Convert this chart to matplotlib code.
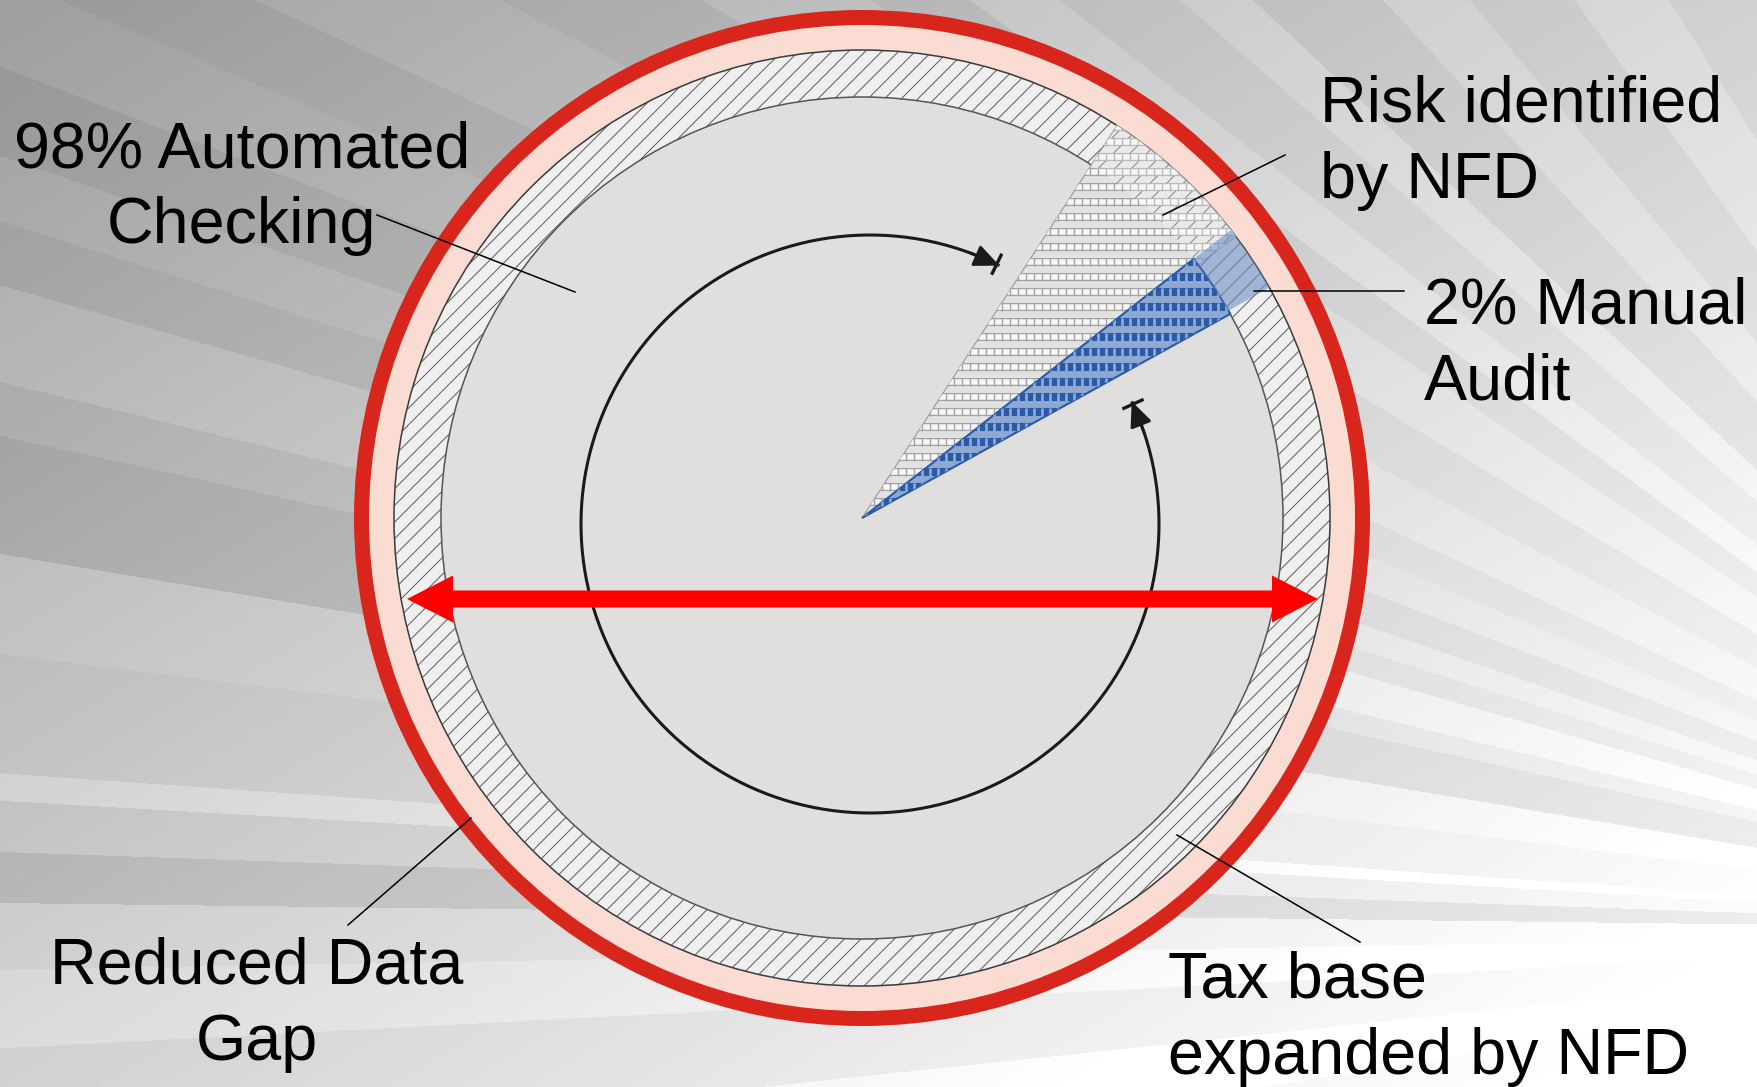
import numpy as np
import matplotlib
matplotlib.use('Agg')
import matplotlib.pyplot as plt
from matplotlib.patches import Circle, Wedge, FancyArrow
from matplotlib.collections import LineCollection

W, H = 1758, 1087
plt.rcParams['font.family'] = ['Liberation Sans', 'DejaVu Sans']
plt.rcParams['hatch.linewidth'] = 0.7

# ring layers, outside -> inside: red edge, data gap, tax base ring, checked area
ring_radii = [508, 493, 468, 421]
ring_colors = ['#d9261c', '#fbdcd3', '#efefef', '#e0dfdd']
center = (862, 518)

# wedge angles in degrees (counter-clockwise from 3 o'clock)
risk_angles = [37, 57]
audit_angles = [29, 38]

label_lines = [
    ['98% Automated', 'Checking'],
    ['Risk identified', 'by NFD'],
    ['2% Manual', 'Audit'],
    ['Reduced Data', 'Gap'],
    ['Tax base', 'expanded by NFD'],
]
label_xy = [(242, 167), (1320, 122), (1424, 323), (257, 984), (1168, 998)]
label_ha = ['center', 'left', 'left', 'center', 'left']
leaders = [
    [(377, 215), (575, 292)],
    [(1285, 155), (1163, 215)],
    [(1404, 291), (1254, 291)],
    [(348, 925), (471, 818)],
    [(1360, 942), (1177, 835)],
]

# background rays: (from angle, to angle, shade offset), seen from a point off the right edge
bands = [(-18, -12, 6), (-12, -9, -4), (-9, -6, 10), (-6, -3, -3), (-3, -1, 8),
         (-1, 0.7, 0), (0.7, 2.0, -20), (2.0, 3.3, -4), (3.3, 4.0, 12), (4.0, 7.0, -2),
         (7.0, 9.5, 4), (9.5, 12.4, -16), (12.4, 13.7, -6), (13.7, 16, 5), (16, 17.5, -8),
         (17.5, 19, 0), (19, 21, -10), (21, 23, 0), (23, 25, -6), (25, 28, 3),
         (28, 31, -4), (31, 34, 6), (34, 36, -3), (36, 38, 10), (38, 41, 0),
         (41, 43, 10), (43, 47, -4), (47, 50, 7), (50, 54, -3), (54, 58, 8), (58, 64, -2)]

fig = plt.figure(figsize=(W / 100, H / 100), dpi=100)
ax = fig.add_axes([0, 0, 1, 1])

# background
yy, xx = np.mgrid[0:H, 0:W]
shade = 158 + 0.03 * xx + 0.05 * yy
phi = np.degrees(np.arctan2(930 - yy, 2250 - xx))
for lo, hi, d in bands:
    shade[(phi >= lo) & (phi < hi)] += d
ax.imshow(np.clip(shade, 0, 255) / 255, cmap='gray', vmin=0, vmax=1,
          extent=(0, W, H, 0), zorder=0, interpolation='bilinear')

# rings
ax.add_patch(Circle(center, ring_radii[0], fc=ring_colors[0], ec='none', zorder=1))
ax.add_patch(Circle(center, ring_radii[1], fc=ring_colors[1], ec='none', zorder=1))
ax.add_patch(Circle(center, ring_radii[2], fc=ring_colors[2], ec='#5a5a5a', lw=0,
                    hatch='//', zorder=1))
ax.add_patch(Circle(center, ring_radii[2], fc='none', ec='#3a3a3a', lw=1.1, zorder=1))
ax.add_patch(Circle(center, ring_radii[3], fc=ring_colors[3], ec='#555555', lw=1.1, zorder=1))


def box_rows(clip, y0, y1, x0, x1, row_col, inner_col, tick_col, tick_w, z):
    rows = np.arange(y0, y1, 15)
    rlines = [[(x0, y), (x1, y)] for y in rows]
    ticks = [[(x, y - 4), (x, y + 4)] for y in rows for x in np.arange(x0, x1, 8)]
    parts = [LineCollection(rlines, colors=row_col, linewidths=5.8, zorder=z)]
    if inner_col:
        parts.append(LineCollection(rlines, colors=inner_col, linewidths=4.0, zorder=z))
    parts.append(LineCollection(ticks, colors=tick_col, linewidths=tick_w, zorder=z))
    for p in parts:
        ax.add_collection(p)
        p.set_clip_path(clip)


# risk wedge (grey pattern), y axis is flipped so angles are negated
risk = Wedge(center, ring_radii[2], -risk_angles[1], -risk_angles[0],
             fc='#e2e2e2', ec='#9a9a9a', lw=0.8, zorder=2)
ax.add_patch(risk)
ax.add_patch(Wedge(center, ring_radii[2], -risk_angles[1], -risk_angles[0],
                   width=ring_radii[2] - ring_radii[3], fc=(1, 1, 1, 0.0),
                   ec='#5a5a5a', lw=0, hatch='//', zorder=2.1))
box_rows(risk, 112, 520, 850, 1260, '#a2a2a2', '#f6f6f6', '#a2a2a2', 1.0, 2.2)
ax.add_patch(Wedge(center, ring_radii[2], -risk_angles[1], -risk_angles[0],
                   width=ring_radii[2] - ring_radii[3], fc=(1, 1, 1, 0.25),
                   ec='none', zorder=2.3))

# manual audit wedge (blue)
audit = Wedge(center, ring_radii[3], -audit_angles[1], -audit_angles[0],
              fc='#8ea8d2', ec='#2a5aa6', lw=1.5, zorder=3)
ax.add_patch(audit)
box_rows(audit, 112, 520, 850, 1300, '#2a5aa6', None, '#8ea8d2', 2.0, 3.1)
ax.add_patch(Wedge(center, ring_radii[2], -audit_angles[1], -audit_angles[0] - 0.5,
                   width=ring_radii[2] - ring_radii[3], fc='#6f8fc4', alpha=0.6,
                   ec='none', zorder=3.2))

# circular arrow inside the disc
arc_c = (870, 524)
arc_r = 289
arc_t = np.radians(np.linspace(63.4, 385.1, 500))
ax.plot(arc_c[0] + arc_r * np.cos(arc_t), arc_c[1] - arc_r * np.sin(arc_t),
        color='#1a1a1a', lw=2.2, zorder=4, solid_capstyle='butt')


def arc_pt(deg, r=arc_r):
    return (arc_c[0] + r * np.cos(np.radians(deg)), arc_c[1] - r * np.sin(np.radians(deg)))


for end, prev, step in [(63.4, 70, 0.6), (385.1, 378, -0.6)]:
    ax.annotate('', xy=arc_pt(end), xytext=arc_pt(prev), zorder=4,
                arrowprops=dict(arrowstyle='-|>,head_length=0.9,head_width=0.4',
                                color='#1a1a1a', lw=2.0, mutation_scale=17,
                                shrinkA=0, shrinkB=0))
    b0, b1 = arc_pt(end + step, arc_r - 10), arc_pt(end + step, arc_r + 10)
    ax.plot([b0[0], b1[0]], [b0[1], b1[1]], color='#1a1a1a', lw=2.4, zorder=4)

# red double arrow across the disc
arrow_y = 599
for tip in (407, 1318):
    ax.add_patch(FancyArrow(center[0], arrow_y, tip - center[0], 0, width=17,
                            head_width=47, head_length=46, length_includes_head=True,
                            fc='#ff0000', ec='none', zorder=5))

# leader lines and labels
for seg in leaders:
    ax.plot([seg[0][0], seg[1][0]], [seg[0][1], seg[1][1]], color='black', lw=1.1, zorder=6)

for lines, (x, y), ha in zip(label_lines, label_xy, label_ha):
    for i, s in enumerate(lines):
        ax.text(x, y + i * 76, s, fontsize=46.5, ha=ha, va='baseline', color='black', zorder=7)

ax.set_xlim(0, W)
ax.set_ylim(H, 0)
ax.set_aspect('auto')
ax.axis('off')
fig.savefig('out.png', dpi=100)
